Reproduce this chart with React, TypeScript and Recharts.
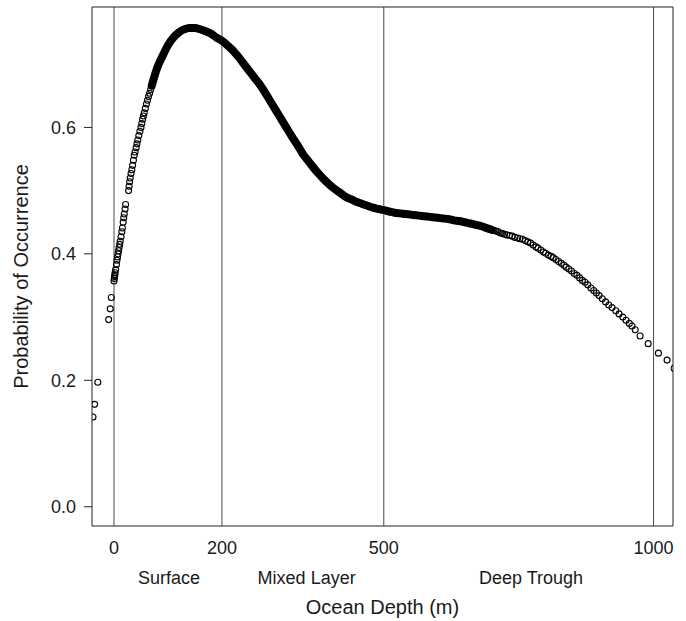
import React from 'react';
import { ComposedChart, Scatter, Line, XAxis, YAxis, ReferenceLine, Label } from 'recharts';

// near-surface points (sparse chain up the steep rise)
const edgeDepth = [
  -39, -36, -30, -10, -7, -5, 0, 0.5, 1, 1.5, 2, 3, 4.5, 5.5, 6.5, 7.5, 8.5, 9.5, 10.5, 11.5, 13,
  14.5, 15.5, 17, 18, 19, 20.5, 21.5, 27, 28, 29, 30, 31.5, 33, 34.5, 36, 37.5, 39, 41, 42.5, 44,
  46, 48, 50, 51.5, 53, 54.5, 56, 58, 60, 62, 64, 66, 68,
];
const edgeProb = [
  0.142, 0.162, 0.197, 0.296, 0.313, 0.331, 0.357, 0.361, 0.364, 0.367, 0.37, 0.375, 0.383, 0.39,
  0.395, 0.4, 0.405, 0.41, 0.415, 0.42, 0.427, 0.435, 0.441, 0.45, 0.457, 0.463, 0.471, 0.478, 0.5,
  0.507, 0.514, 0.52, 0.527, 0.533, 0.54, 0.548, 0.556, 0.561, 0.568, 0.574, 0.58, 0.587, 0.594,
  0.6, 0.606, 0.613, 0.618, 0.623, 0.63, 0.637, 0.643, 0.649, 0.654, 0.66,
];

// dense core of the cloud
const coreDepth = [
  70, 80, 90, 100, 110, 120, 130, 140, 150, 160, 170, 180, 190, 200, 210, 220, 230, 240, 250, 260,
  270, 280, 290, 300, 310, 320, 330, 340, 350, 360, 370, 380, 390, 400, 410, 420, 430, 440, 450,
  460, 470, 480, 490, 500, 510, 520, 530, 540, 550, 560, 570, 580, 590, 600, 610, 620, 630, 640,
  650, 660, 670, 680, 690, 700,
];
const coreProb = [
  0.666, 0.694, 0.713, 0.73, 0.742, 0.75, 0.755, 0.757, 0.757, 0.755, 0.752, 0.748, 0.742, 0.737,
  0.73, 0.722, 0.712, 0.701, 0.69, 0.679, 0.668, 0.655, 0.641, 0.627, 0.613, 0.599, 0.585, 0.572,
  0.558, 0.547, 0.536, 0.526, 0.517, 0.509, 0.502, 0.496, 0.49, 0.486, 0.482, 0.479, 0.476, 0.473,
  0.471, 0.469, 0.467, 0.465, 0.464, 0.463, 0.462, 0.461, 0.46, 0.459, 0.458, 0.457, 0.456, 0.455,
  0.453, 0.452, 0.45, 0.448, 0.446, 0.444, 0.441, 0.438,
];

// deep tail, thinning out
const tailDepth = [
  704, 708, 712, 716, 720, 724, 728, 733, 738, 743, 748, 752, 757, 762, 767, 772, 777, 782, 786,
  791, 796, 800, 805, 810, 814, 819, 824, 829, 834, 838, 843, 848, 853, 858, 863, 868, 873, 878,
  884, 889, 894, 899, 905, 911, 917, 923, 930, 936, 943, 949, 955, 960, 966, 975, 990, 1009, 1025,
  1038,
];
const tailProb = [
  0.437, 0.436, 0.435, 0.433, 0.432, 0.431, 0.43, 0.429, 0.428, 0.426, 0.425, 0.424, 0.423, 0.421,
  0.419, 0.417, 0.414, 0.411, 0.409, 0.406, 0.403, 0.401, 0.398, 0.396, 0.394, 0.391, 0.388, 0.385,
  0.382, 0.379, 0.376, 0.373, 0.369, 0.366, 0.362, 0.358, 0.355, 0.351, 0.346, 0.342, 0.338, 0.334,
  0.329, 0.324, 0.319, 0.315, 0.31, 0.305, 0.3, 0.295, 0.29, 0.286, 0.28, 0.27, 0.258, 0.243,
  0.232, 0.219,
];

const depthTicks = [0, 200, 500, 1000];
const zoneBounds = [0, 200, 500, 1000];
const zoneCenters = [102, 357, 773];
const zoneNames = ['Surface', 'Mixed Layer', 'Deep Trough'];
const probTicks = [0, 0.2, 0.4, 0.6];

const X_DOMAIN: [number, number] = [-40.8, 1036];
const Y_DOMAIN: [number, number] = [-0.0304, 0.7904];
const FONT = '"Liberation Sans", Arial, Helvetica, sans-serif';
const INK = '#1a1a1a';

const zip = (d: number[], p: number[]) => d.map((depth, i) => ({ depth, prob: p[i] }));
const corePoints = zip(coreDepth, coreProb);
const allPoints = [...zip(edgeDepth, edgeProb), ...corePoints, ...zip(tailDepth, tailProb)];
const bottomTicks = [...depthTicks, ...zoneCenters].sort((a, b) => a - b);

const Ring = (props: any) => (
  <circle cx={props.cx} cy={props.cy} r={3} fill="none" stroke="#000" strokeWidth={1.1} />
);

// numbers on the first row, zone names on a second row below
const DepthTick = (props: any) => {
  const { x, y, payload } = props;
  const zi = zoneCenters.indexOf(payload.value);
  const label = zi >= 0 ? zoneNames[zi] : String(payload.value);
  return (
    <text x={x} y={zi >= 0 ? y + 30 : y} dy="0.71em" textAnchor="middle"
      fontSize={18} fontFamily={FONT} fill={INK}>
      {label}
    </text>
  );
};

const XTitle = (props: any) => {
  const vb = props.viewBox || {};
  return (
    <text x={vb.x + vb.width / 2} y={vb.y + vb.height - 7} textAnchor="middle"
      fontSize={20} fontFamily={FONT} fill={INK}>
      Ocean Depth (m)
    </text>
  );
};

const YTitle = (props: any) => {
  const vb = props.viewBox || {};
  const cx = vb.x + 21;
  const cy = vb.y + vb.height / 2 + 10;
  return (
    <text x={cx} y={cy} transform={`rotate(-90, ${cx}, ${cy})`} textAnchor="middle"
      dominantBaseline="central" fontSize={20} fontFamily={FONT} fill={INK}>
      Probability of Occurrence
    </text>
  );
};

const tickStyle = { fontSize: 18, fill: INK, fontFamily: FONT };

export default function App() {
  return (
    <div style={{ position: 'absolute', left: 0, top: 0, width: 686, height: 621, background: '#fff' }}>
      <ComposedChart width={686} height={621} margin={{ top: 6, right: 12, bottom: 0, left: 0 }}>
        <XAxis dataKey="depth" type="number" domain={X_DOMAIN} allowDataOverflow ticks={bottomTicks}
          interval={0} height={95} tickLine={false} tickSize={6} tickMargin={9}
          axisLine={{ stroke: '#222' }} tick={<DepthTick />}>
          <Label content={XTitle} />
        </XAxis>
        <XAxis xAxisId="top" orientation="top" type="number" domain={X_DOMAIN} allowDataOverflow
          height={1} tick={false} tickLine={false} axisLine={{ stroke: '#222' }} />
        <YAxis dataKey="prob" type="number" domain={Y_DOMAIN} allowDataOverflow ticks={probTicks}
          interval={0} width={92} tickSize={8} tickMargin={8} tickLine={{ stroke: '#222' }}
          axisLine={{ stroke: '#222' }} tick={tickStyle} tickFormatter={(v: number) => v.toFixed(1)}>
          <Label content={YTitle} />
        </YAxis>
        <YAxis yAxisId="right" orientation="right" type="number" domain={Y_DOMAIN} allowDataOverflow
          width={1} tick={false} tickLine={false} axisLine={{ stroke: '#222' }} />
        {zoneBounds.map((b) => (
          <ReferenceLine key={b} x={b} stroke="#4a4a4a" strokeWidth={1} />
        ))}
        <Line data={corePoints} dataKey="prob" type="monotone" stroke="#000" strokeWidth={8}
          strokeLinecap="round" dot={false} activeDot={false} isAnimationActive={false} />
        <Scatter data={allPoints} dataKey="prob" shape={Ring} isAnimationActive={false} />
      </ComposedChart>
    </div>
  );
}
